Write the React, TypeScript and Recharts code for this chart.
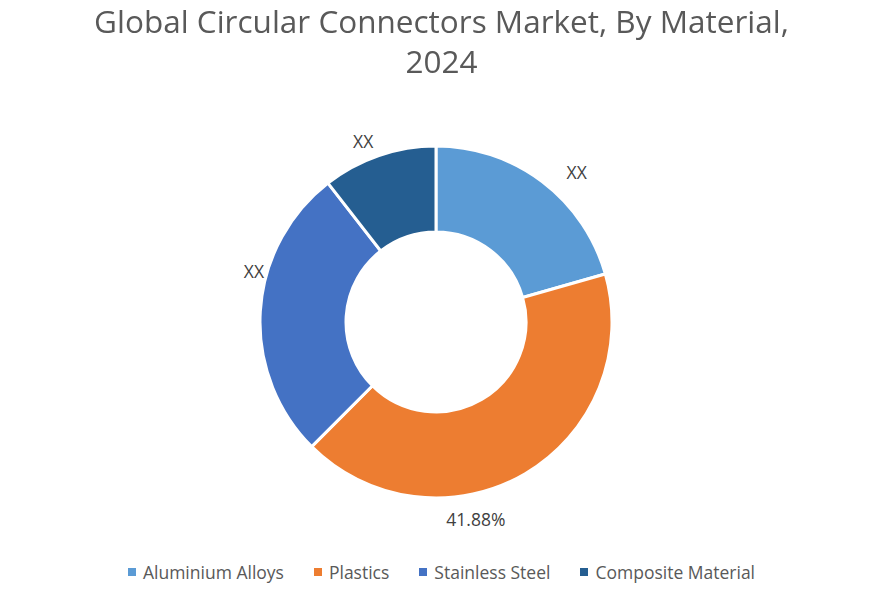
import { PieChart, Pie, Cell } from 'recharts';

const materials = ['Aluminium Alloys', 'Plastics', 'Stainless Steel', 'Composite Material'];
const shares = [20.6, 41.88, 27.0, 10.52];
const labels = ['XX', '41.88%', 'XX', 'XX'];
const colors = ['#5B9BD5', '#ED7D31', '#4472C4', '#255E91'];

// nudge labels away from the exact slice middle, like the original layout
const labelShift = [-6, -19, -12, 3];
const labelRadius = [206, 201, 189, 195];

const data = materials.map((name, i) => ({ name, value: shares[i] }));

const FONT = '"Open Sans", "Noto Sans", sans-serif';
const RAD = Math.PI / 180;

function renderLabel(props: any) {
  const { cx, cy, midAngle, index } = props;
  const a = (midAngle + labelShift[index]) * RAD;
  const r = labelRadius[index];
  const x = cx + r * Math.cos(a);
  const y = cy - r * Math.sin(a);
  return (
    <text
      x={x}
      y={y}
      textAnchor="middle"
      dominantBaseline="central"
      fill="#404040"
      fontSize={17.5}
      fontFamily={FONT}
    >
      {labels[index]}
    </text>
  );
}

export default function App() {
  return (
    <div
      style={{
        position: 'fixed',
        top: 0,
        left: 0,
        width: 883,
        height: 600,
        background: '#fff',
        fontFamily: FONT,
      }}
    >
      <PieChart width={883} height={600} margin={{ top: 0, right: 0, bottom: 0, left: 0 }}>
        <Pie
          data={data}
          dataKey="value"
          nameKey="name"
          cx={436}
          cy={322}
          innerRadius={90}
          outerRadius={176}
          startAngle={90}
          endAngle={-270}
          stroke="#fff"
          strokeWidth={3}
          label={renderLabel}
          labelLine={false}
          isAnimationActive={false}
        >
          {data.map((d, i) => (
            <Cell key={d.name} fill={colors[i]} />
          ))}
        </Pie>
      </PieChart>
      <div
        style={{
          position: 'absolute',
          top: 1,
          left: 0,
          width: 883,
          textAlign: 'center',
          color: '#595959',
          fontSize: 31.5,
          lineHeight: '40px',
        }}
      >
        Global Circular Connectors Market, By Material,
        <br />
        2024
      </div>
      <div
        style={{
          position: 'absolute',
          top: 559,
          left: 0,
          width: 883,
          display: 'flex',
          justifyContent: 'center',
          gap: 30,
          color: '#595959',
          fontSize: 17.5,
          lineHeight: '26px',
        }}
      >
        {materials.map((m, i) => (
          <div key={m} style={{ display: 'flex', alignItems: 'center' }}>
            <span
              style={{
                display: 'inline-block',
                width: 8,
                height: 8,
                background: colors[i],
                marginRight: 7,
              }}
            />
            {m}
          </div>
        ))}
      </div>
    </div>
  );
}
